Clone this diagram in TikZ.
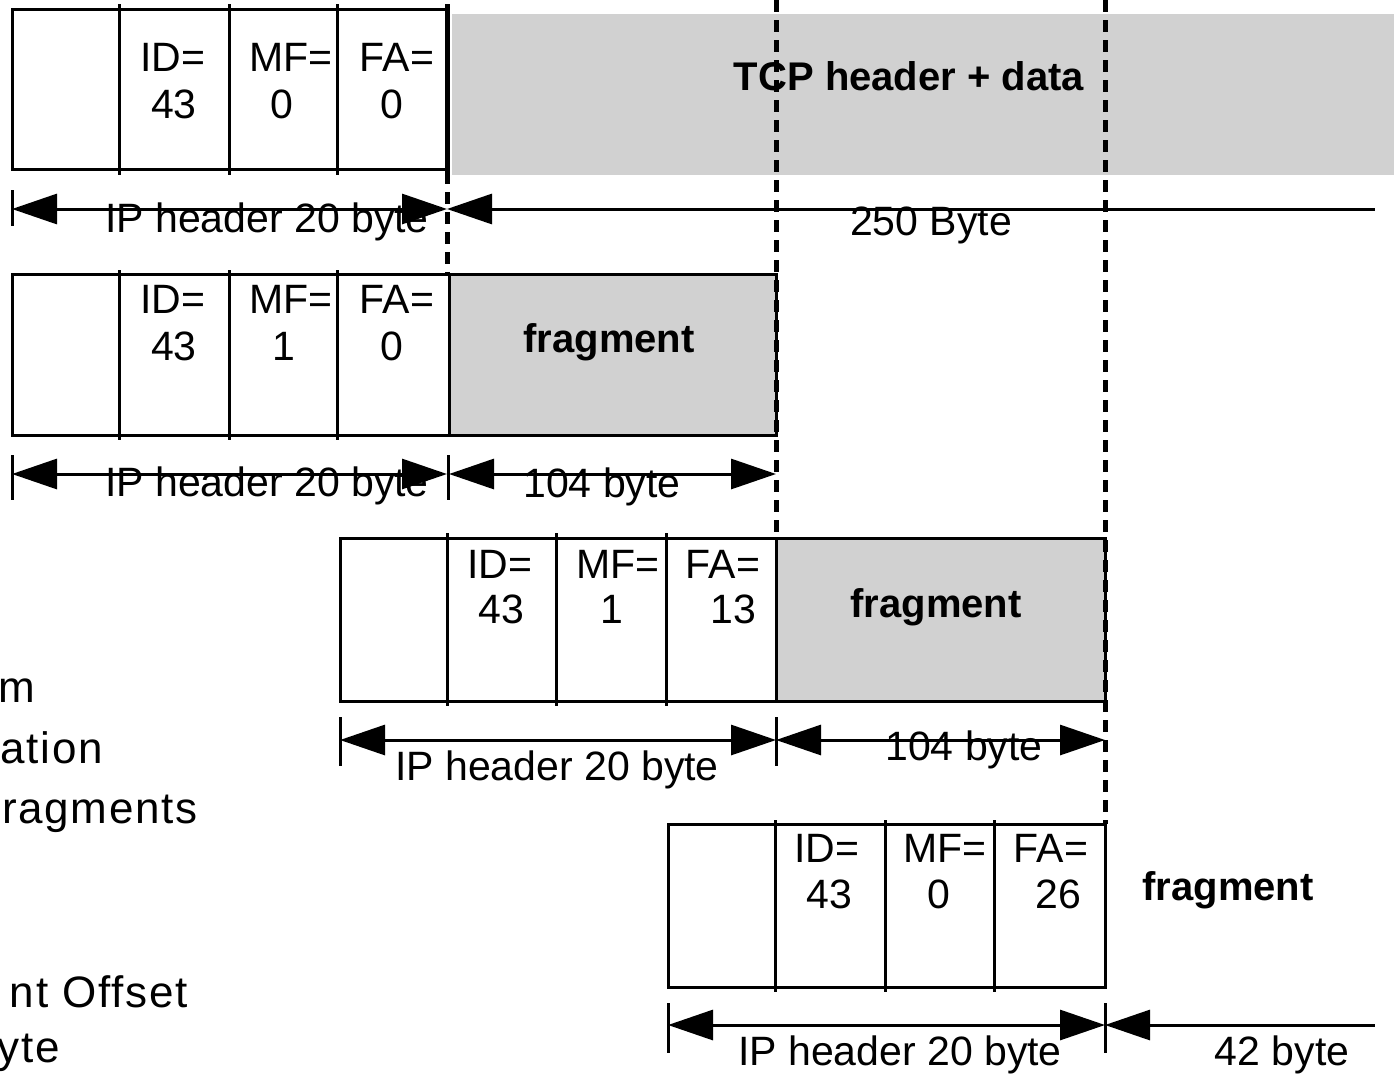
\documentclass[tikz,border=0pt]{standalone}
\usepackage{fontspec}
\setmainfont{Liberation Sans}
\usetikzlibrary{arrows.meta}
\definecolor{hatchfill}{gray}{0.82}

\begin{document}
\begin{tikzpicture}[x=1pt,y=-1pt,
  box/.style={draw, line width=3pt},
  hatched/.style={fill=hatchfill},
  divider/.style={line width=3pt},
  guide/.style={line width=5pt, dash pattern=on 12pt off 8pt},
  dim/.style={line width=3pt, {Triangle[length=45pt,width=30pt]}-{Triangle[length=45pt,width=30pt]}},
  dimleft/.style={line width=3pt, {Triangle[length=45pt,width=30pt]}-},
  tickmark/.style={line width=3pt},
  lbl/.style={font=\fontsize{41}{48}\selectfont, inner sep=0, anchor=base},
  boldlbl/.style={font=\fontsize{40}{48}\selectfont\bfseries, inner sep=0, anchor=base},
  sidelbl/.style={font=\fontsize{44}{52}\selectfont\addfontfeature{LetterSpace=4}, inner sep=0, anchor=base east},
]
\useasboundingbox (0,0) rectangle (1394,1080);

% payload areas
\fill[hatched] (452,14) rectangle (1394,175);
\fill[hatched] (449,274) rectangle (776,435);
\fill[hatched] (776,538) rectangle (1105,701);

% ---- original datagram ----
\node[lbl] (o-id)  at (173,71)  {ID=};
\node[lbl] (o-idv) at (174,118) {43};
\node[lbl] (o-mf)  at (291,71)  {MF=};
\node[lbl] (o-mfv) at (282,118) {0};
\node[lbl] (o-fa)  at (397,71)  {FA=};
\node[lbl] (o-fav) at (392,118) {0};
\node[boldlbl] (o-data) at (909,90) {TCP header + data};
\node[lbl] (o-hdr) at (267,232) {IP header 20 byte};
\node[lbl] (o-len) at (931,235) {250 Byte};

% ---- fragment 1 ----
\node[lbl] (f1-id)  at (173,313) {ID=};
\node[lbl] (f1-idv) at (174,360) {43};
\node[lbl] (f1-mf)  at (291,313) {MF=};
\node[lbl] (f1-mfv) at (284,360) {1};
\node[lbl] (f1-fa)  at (397,313) {FA=};
\node[lbl] (f1-fav) at (392,360) {0};
\node[boldlbl] (f1-data) at (609,352) {fragment};
\node[lbl] (f1-hdr) at (267,496) {IP header 20 byte};
\node[lbl] (f1-len) at (602,497) {104 byte};

% ---- fragment 2 ----
\node[lbl] (f2-id)  at (500,578) {ID=};
\node[lbl] (f2-idv) at (501,623) {43};
\node[lbl] (f2-mf)  at (618,578) {MF=};
\node[lbl] (f2-mfv) at (612,623) {1};
\node[lbl] (f2-fa)  at (723,578) {FA=};
\node[lbl] (f2-fav) at (733,623) {13};
\node[boldlbl] (f2-data) at (936,617) {fragment};
\node[lbl] (f2-hdr) at (557,780) {IP header 20 byte};
\node[lbl] (f2-len) at (964,760) {104 byte};

% ---- fragment 3 ----
\node[lbl] (f3-id)  at (827,862) {ID=};
\node[lbl] (f3-idv) at (829,908) {43};
\node[lbl] (f3-mf)  at (945,862) {MF=};
\node[lbl] (f3-mfv) at (939,908) {0};
\node[lbl] (f3-fa)  at (1051,862) {FA=};
\node[lbl] (f3-fav) at (1058,908) {26};
\node[boldlbl] (f3-data) at (1228,900) {fragment};
\node[lbl] (f3-hdr) at (900,1065) {IP header 20 byte};
\node[lbl] (f3-len) at (1282,1065) {42 byte};

% legend text running off the left edge
\node[sidelbl] (s1) at (35,702)  {m};
\node[sidelbl] (s2) at (103,763) {ation};
\node[sidelbl] (s3) at (198,823) {ragments};
\node[sidelbl] (s4) at (188,1007) {nt Offset};
\node[sidelbl] (s5) at (60,1062) {yte};

% header boxes and field dividers
\draw[box] (12,9) rectangle (447,169);
\foreach \x in {119,229,337} \draw[divider] (\x,4) -- (\x,175);
\draw[line width=5pt] (447,4) -- (447,172);

\draw[box] (12,274) rectangle (776,435);
\foreach \x in {119,229,337} \draw[divider] (\x,270) -- (\x,440);
\draw[divider] (449,274) -- (449,435);

\draw[box] (340,538) rectangle (1105,701);
\foreach \x in {447,556,666} \draw[divider] (\x,533) -- (\x,706);
\draw[divider] (776,538) -- (776,701);

\draw[box] (668,824) rectangle (1105,987);
\foreach \x in {775,885,994} \draw[divider] (\x,820) -- (\x,992);

% fragment boundaries
\coordinate (g1a) at (447,172); \coordinate (g1b) at (447,274);
\coordinate (g2a) at (776,0);   \coordinate (g2b) at (776,538);
\coordinate (g3a) at (1105,0);  \coordinate (g3b) at (1105,824);
\draw[guide] (g1a) -- (g1b);
\draw[guide] (g2a) -- (g2b);
\draw[guide] (g3a) -- (g3b);

% dimension lines
\coordinate (d1a) at (12,209);   \coordinate (d1b) at (447,209);  \coordinate (d1c) at (1375,209);
\draw[tickmark] (12,190) -- (12,226);
\draw[dim] (d1a) -- (d1b);
\draw[dimleft] (d1b) -- (d1c);

\coordinate (d2a) at (12,474);   \coordinate (d2b) at (447,474);  \coordinate (d2c) at (449,474); \coordinate (d2d) at (776,474);
\draw[tickmark] (12,455) -- (12,500);
\draw[tickmark] (448,455) -- (448,500);
\draw[dim] (d2a) -- (d2b);
\draw[dim] (d2c) -- (d2d);

\coordinate (d3a) at (340,740);  \coordinate (d3b) at (776,740);  \coordinate (d3c) at (1105,740);
\draw[tickmark] (340,717) -- (340,766);
\draw[tickmark] (776,717) -- (776,766);
\draw[dim] (d3a) -- (d3b);
\draw[dim] (d3b) -- (d3c);

\coordinate (d4a) at (668,1025); \coordinate (d4b) at (1105,1025); \coordinate (d4c) at (1375,1025);
\draw[tickmark] (668,1003) -- (668,1053);
\draw[tickmark] (1105,1003) -- (1105,1053);
\draw[dim] (d4a) -- (d4b);
\draw[dimleft] (d4b) -- (d4c);
\end{tikzpicture}
\end{document}
